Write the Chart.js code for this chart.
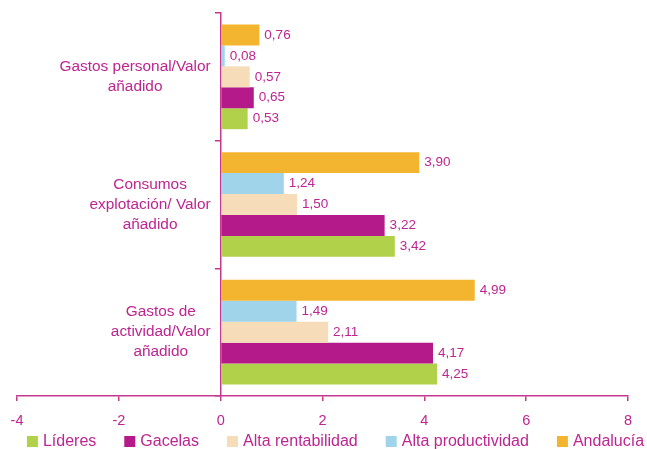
<!DOCTYPE html>
<html>
<head>
<meta charset="utf-8">
<script src="https://cdn.jsdelivr.net/npm/chart.js@4/dist/chart.umd.min.js"></script>
<style>
  html, body { margin: 0; padding: 0; background: #fff; }
  #wrap { width: 647px; height: 449px; }
</style>
</head>
<body>
<div id="wrap"><canvas id="ratiosChart" width="647" height="449"></canvas></div>
<script>
// categories, top to bottom
const categories = [
    ['Gastos personal/Valor', 'añadido'],
    ['Consumos', 'explotación/ Valor', 'añadido'],
    ['Gastos de', 'actividad/Valor', 'añadido']
];
// series, in the order the bars sit inside a group (top first)
const seriesNames = ['Andalucía', 'Alta productividad', 'Alta rentabilidad', 'Gacelas', 'Líderes'];
const andalucia = [0.76, 3.90, 4.99];
const altaProductividad = [0.08, 1.24, 1.49];
const altaRentabilidad = [0.57, 1.50, 2.11];
const gacelas = [0.65, 3.22, 4.17];
const lideres = [0.53, 3.42, 4.25];
const xTicks = [-4, -2, 0, 2, 4, 6, 8];

const seriesValues = [andalucia, altaProductividad, altaRentabilidad, gacelas, lideres];
const seriesColors = ['#F3B52F', '#9FD4EA', '#F6DCB8', '#B41A89', '#B2D14B'];
const textColor = '#BE2590';
const axisColor = '#C4388F';
const fontFamily = '"Liberation Sans", Arial, sans-serif';

// value labels at the end of each bar
const valueLabels = {
    id: 'valueLabels',
    afterDatasetsDraw(chart) {
        const ctx = chart.ctx;
        ctx.save();
        ctx.font = '13.5px ' + fontFamily;
        ctx.fillStyle = textColor;
        ctx.textAlign = 'left';
        ctx.textBaseline = 'middle';
        chart.data.datasets.forEach((ds, i) => {
            chart.getDatasetMeta(i).data.forEach((bar, j) => {
                const txt = ds.data[j].toFixed(2).replace('.', ',');
                ctx.fillText(txt, bar.x + 5, bar.y);
            });
        });
        ctx.restore();
    }
};

// category labels: each block right-aligned, lines centred inside the block
const categoryLabels = {
    id: 'categoryLabels',
    afterDraw(chart) {
        const ctx = chart.ctx;
        const yScale = chart.scales.y;
        const right = chart.scales.x.getPixelForValue(0) - 10;
        const lineH = 20;
        ctx.save();
        ctx.font = '15.4px ' + fontFamily;
        ctx.fillStyle = textColor;
        ctx.textAlign = 'center';
        ctx.textBaseline = 'middle';
        categories.forEach((lines, i) => {
            const w = Math.max(...lines.map(l => ctx.measureText(l).width));
            const cx = right - w / 2;
            const cy = yScale.getPixelForValue(i);
            lines.forEach((l, k) => {
                ctx.fillText(l, cx, cy + (k - (lines.length - 1) / 2) * lineH);
            });
        });
        ctx.restore();
    }
};

// legend row under the axis (series in reverse order, Líderes first)
const bottomLegend = {
    id: 'bottomLegend',
    afterDraw(chart) {
        const ctx = chart.ctx;
        const box = 11, boxGap = 5, itemGap = 28;
        const y = 441.5;
        ctx.save();
        ctx.font = '16px ' + fontFamily;
        ctx.textAlign = 'left';
        ctx.textBaseline = 'middle';
        const items = chart.data.datasets.slice().reverse();
        const widths = items.map(ds => box + boxGap + ctx.measureText(ds.label).width);
        const total = widths.reduce((a, b) => a + b, 0) + itemGap * (items.length - 1);
        let x = 335.5 - total / 2;
        items.forEach((ds, i) => {
            ctx.fillStyle = ds.backgroundColor;
            ctx.fillRect(x, y - box / 2, box, box);
            ctx.fillStyle = textColor;
            ctx.fillText(ds.label, x + box + boxGap, y);
            x += widths[i] + itemGap;
        });
        ctx.restore();
    }
};

const chartData = {
    labels: categories.map(c => c.join(' ')),
    datasets: seriesNames.map((name, i) => ({
        label: name,
        data: seriesValues[i],
        backgroundColor: seriesColors[i],
        borderWidth: 0,
        categoryPercentage: 0.82,
        barPercentage: 1.0
    }))
};

const config = {
    type: 'bar',
    data: chartData,
    options: {
        indexAxis: 'y',
        responsive: false,
        animation: false,
        devicePixelRatio: 1,
        layout: {
            padding: { left: 0, right: 0, top: 13, bottom: 19 }
        },
        plugins: {
            tooltip: { enabled: false },
            legend: { display: false }
        },
        scales: {
            x: {
                min: xTicks[0],
                max: xTicks[xTicks.length - 1],
                ticks: {
                    stepSize: xTicks[1] - xTicks[0],
                    color: textColor,
                    padding: 11,
                    font: { family: fontFamily, size: 14.5 },
                    callback: (v) => xTicks.includes(v) ? String(v) : ''
                },
                afterFit: (scale) => {
                    scale.height = 34;
                    scale.paddingLeft = 17;
                    scale.paddingRight = 19;
                },
                border: { color: axisColor, width: 1.5 },
                grid: {
                    drawOnChartArea: false,
                    drawTicks: true,
                    tickLength: 5,
                    color: axisColor,
                    lineWidth: 1.5
                }
            },
            y: {
                position: { x: 0 },
                offset: true,
                z: 1,
                afterFit: (scale) => { scale.width = 0; },
                border: { color: axisColor, width: 1.5 },
                grid: {
                    offset: true,
                    drawOnChartArea: false,
                    drawTicks: true,
                    tickLength: 5,
                    color: axisColor,
                    lineWidth: 1.5
                },
                ticks: { display: false }
            }
        }
    },
    plugins: [valueLabels, categoryLabels, bottomLegend]
};

const ratiosChart = new Chart(document.getElementById('ratiosChart'), config);
</script>
</body>
</html>
